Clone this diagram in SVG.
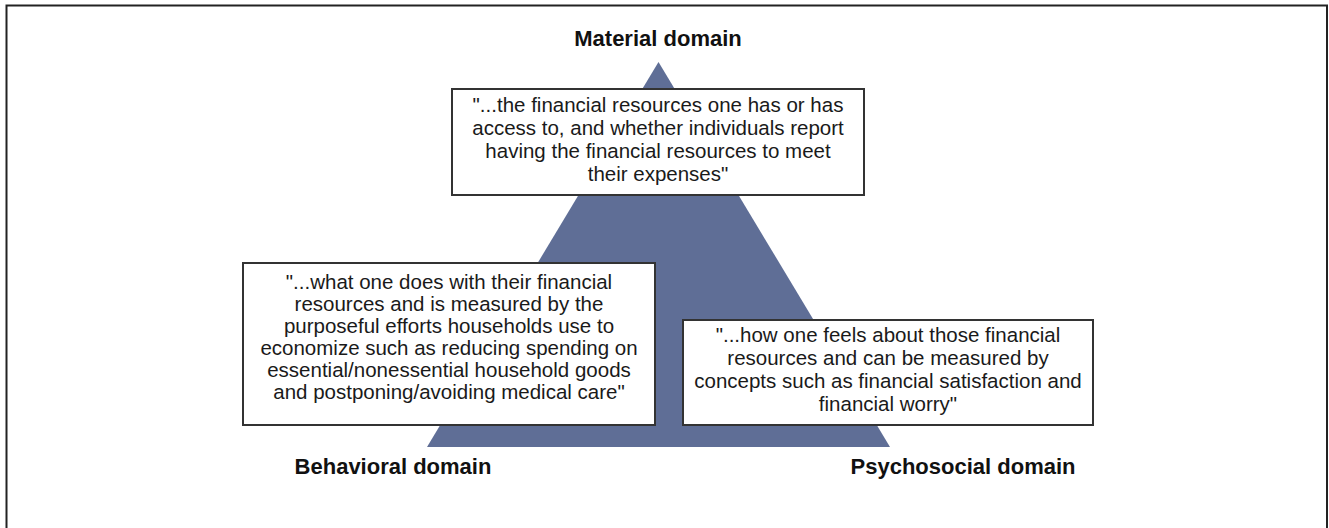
<svg xmlns="http://www.w3.org/2000/svg" width="1329" height="528" viewBox="0 0 1329 528">
  <style>
    .frame { fill: none; stroke: #222; stroke-width: 2; }
    .tri { fill: #5f6e96; }
    .box { fill: #fff; stroke: #333; stroke-width: 2; }
    .body { font-family: "Liberation Sans", Arial, sans-serif; font-size: 20.5px; fill: #1a1a1a; text-anchor: middle; }
    .label { font-family: "Liberation Sans", Arial, sans-serif; font-size: 22px; font-weight: bold; fill: #111; text-anchor: middle; }
  </style>

  <!-- outer frame (open at the bottom edge) -->
  <rect class="frame" x="6.5" y="5.5" width="1320.5" height="540"/>

  <!-- central triangle -->
  <g id="triangle">
    <polygon class="tri" points="658.5,62 890,447 427,447"/>
  </g>

  <g id="connectors"></g>

  <!-- domain labels -->
  <g id="material-label">
    <text class="label" x="658" y="46">Material domain</text>
  </g>
  <g id="behavioral-label">
    <text class="label" x="393" y="474">Behavioral domain</text>
  </g>
  <g id="psychosocial-label">
    <text class="label" x="963" y="474">Psychosocial domain</text>
  </g>

  <!-- material domain definition -->
  <g id="material-box">
    <rect class="box" x="452" y="89" width="412" height="106"/>
    <text class="body" x="658" y="112">"...the financial resources one has or has</text>
    <text class="body" x="658" y="135">access to, and whether individuals report</text>
    <text class="body" x="658" y="158">having the financial resources to meet</text>
    <text class="body" x="658" y="181">their expenses"</text>
  </g>

  <!-- behavioral domain definition -->
  <g id="behavioral-box">
    <rect class="box" x="243" y="263" width="412" height="162"/>
    <text class="body" x="449" y="289">"...what one does with their financial</text>
    <text class="body" x="449" y="311">resources and is measured by the</text>
    <text class="body" x="449" y="333">purposeful efforts households use to</text>
    <text class="body" x="449" y="355">economize such as reducing spending on</text>
    <text class="body" x="449" y="377">essential/nonessential household goods</text>
    <text class="body" x="449" y="399">and postponing/avoiding medical care"</text>
  </g>

  <!-- psychosocial domain definition -->
  <g id="psychosocial-box">
    <rect class="box" x="683" y="320" width="410" height="105"/>
    <text class="body" x="888" y="342">"...how one feels about those financial</text>
    <text class="body" x="888" y="365">resources and can be measured by</text>
    <text class="body" x="888" y="388">concepts such as financial satisfaction and</text>
    <text class="body" x="888" y="411">financial worry"</text>
  </g>
</svg>
